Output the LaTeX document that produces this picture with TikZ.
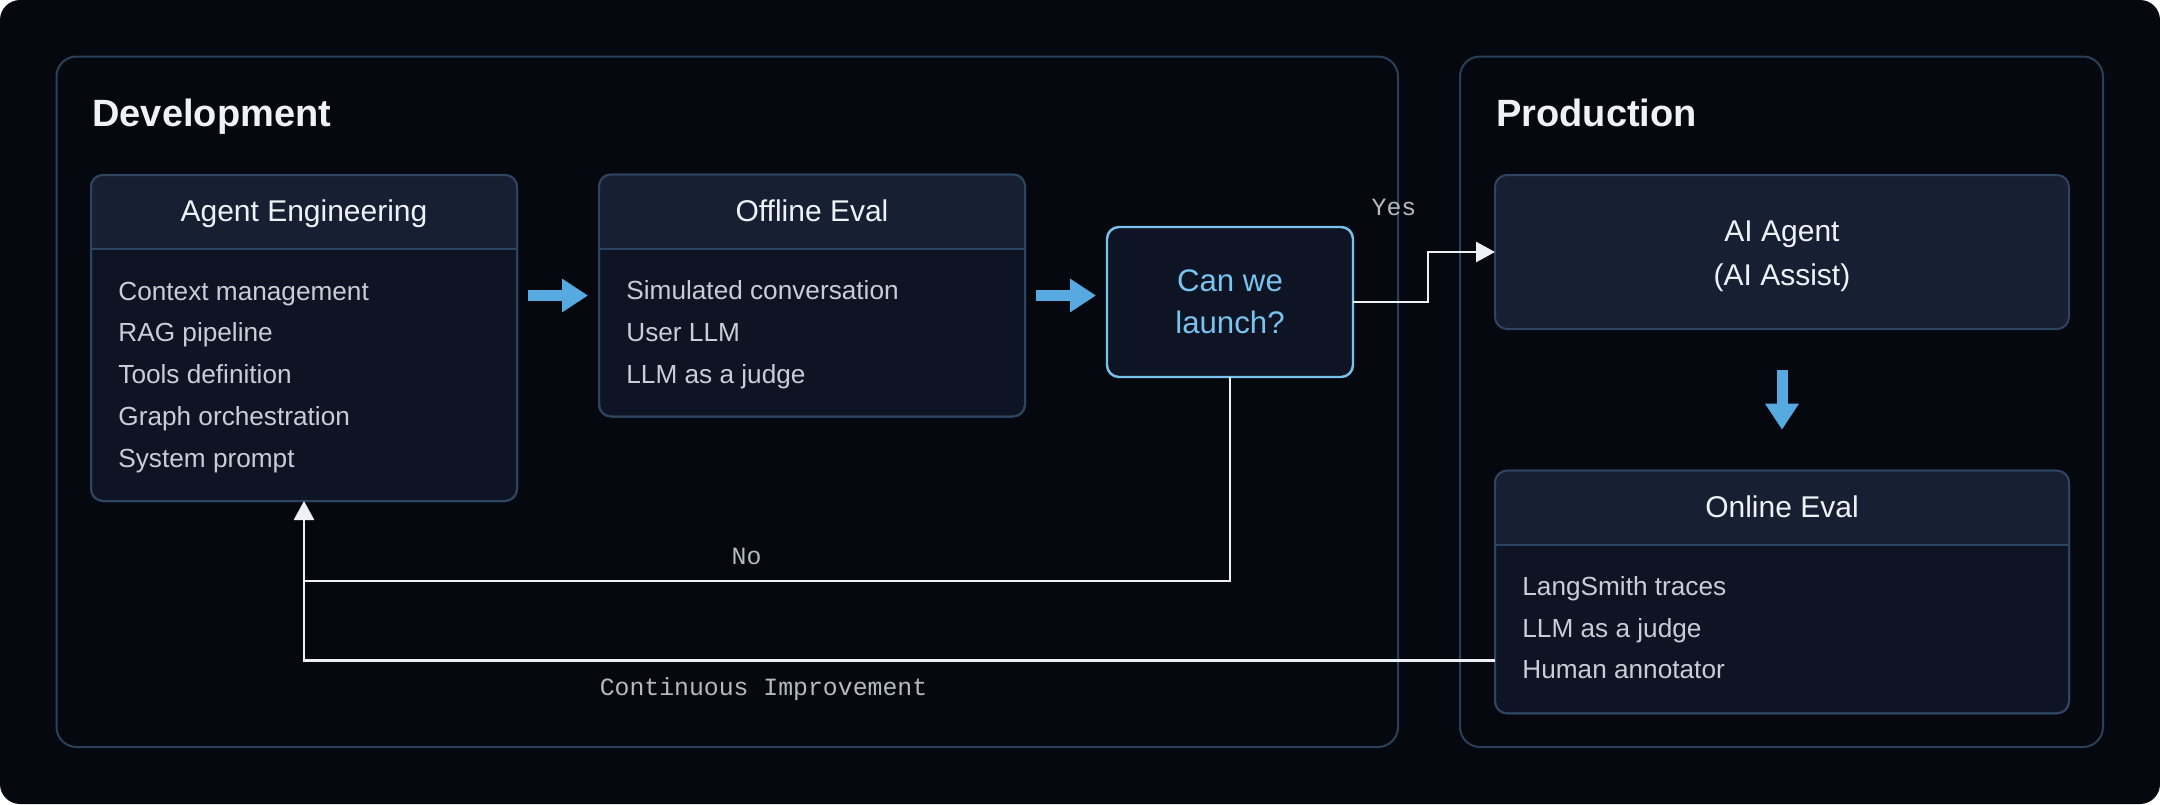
\documentclass[tikz,border=0pt]{standalone}
\usepackage{fontspec}
\setmainfont{Liberation Sans}
\setmonofont{Liberation Mono}
\usetikzlibrary{arrows.meta,calc,positioning}

\definecolor{bgdark}{HTML}{05090F}
\definecolor{panelline}{HTML}{2A3F58}
\definecolor{cardline}{HTML}{2D4561}
\definecolor{cardbody}{HTML}{0E1423}
\definecolor{cardhead}{HTML}{171F33}
\definecolor{arrowblue}{HTML}{56AADF}
\definecolor{askblue}{HTML}{79C3EF}
\definecolor{flowwhite}{HTML}{EEF1F4}
\definecolor{tagtext}{HTML}{B3BAC2}
\definecolor{itemtext}{HTML}{C9CED6}
\definecolor{headtext}{HTML}{EEF2F6}

\tikzset{
  panel/.style={draw=panelline, line width=1pt, rounded corners=10pt},
  paneltitle/.style={anchor=base west, inner sep=0pt, text=headtext, font=\fontsize{19}{23}\selectfont\bfseries},
  card/.style={draw=cardline, fill=cardbody, line width=1pt, rounded corners=6pt, outer sep=0pt},
  cardtitle/.style={anchor=base, text=headtext, font=\fontsize{15}{20}\selectfont},
  item/.style={anchor=base west, text=itemtext, inner sep=0pt, font=\fontsize{13.1}{18}\selectfont},
  decision/.style={draw=askblue, fill=cardbody, line width=1.2pt, rounded corners=6pt, outer sep=0pt,
    text=askblue, align=center, font=\fontsize{15.6}{20.85}\selectfont},
  bigarrow/.style={draw=arrowblue, line width=5.5pt, -{Triangle[length=13pt,width=16pt]}},
  flow/.style={draw=flowwhite, line width=1.4pt, -{Triangle[length=9.5pt,width=10pt]}},
  flowline/.style={draw=flowwhite, line width=1.4pt},
  tag/.style={anchor=base, text=tagtext, font=\ttfamily\fontsize{12.4}{15}\selectfont},
}

\begin{document}
\begin{tikzpicture}[x=0.5pt, y=-0.5pt]
  \useasboundingbox (0,0) rectangle (2160,804);
  \fill[white] (0,0) rectangle (2160,804);
  \fill[bgdark, rounded corners=10pt] (0,0) rectangle (2160,804);

  % stages
  \draw[panel] (56.5,56.5) rectangle (1398,747);
  \draw[panel] (1460,56.5) rectangle (2103,747);
  \node[paneltitle] (devt) at (92,126) {Development};
  \node[paneltitle] (prodt) at (1496,126) {Production};

  % cards
  \node[card, minimum width=213pt, minimum height=163pt] (ae) at (304,338) {};
  \node[card, minimum width=213pt, minimum height=121pt] (oe) at (812,295.5) {};
  \node[card, minimum width=287pt, minimum height=121.3pt] (on) at (1782,592) {};
  \foreach \c in {ae,oe,on} {
    \fill[cardhead] ($(\c.north west)+(0,74)$) [rounded corners=6pt] -- (\c.north west)
      -- (\c.north east) [sharp corners] -- ($(\c.north east)+(0,74)$) -- cycle;
    \draw[cardline, line width=1pt] ($(\c.north west)+(0,74)$) -- ($(\c.north east)+(0,74)$);
    \draw[cardline, line width=1pt, rounded corners=6pt] (\c.north west) rectangle (\c.south east);
  }
  \node[cardtitle] (aeh) at ($(ae.north)+(0,46.7)$) {Agent Engineering};
  \node[cardtitle] (oeh) at ($(oe.north)+(0,46.7)$) {Offline Eval};
  \node[cardtitle] (onh) at ($(on.north)+(0,46.7)$) {Online Eval};

  \foreach \t [count=\i] in {Context management,RAG pipeline,Tools definition,Graph orchestration,System prompt}
    \node[item] (ae-\i) at ($(ae.north west)+(27,{125+41.8*(\i-1)})$) {\t};
  \foreach \t [count=\i] in {Simulated conversation,User LLM,LLM as a judge}
    \node[item] (oe-\i) at ($(oe.north west)+(27,{125+41.8*(\i-1)})$) {\t};
  \foreach \t [count=\i] in {LangSmith traces,LLM as a judge,Human annotator}
    \node[item] (on-\i) at ($(on.north west)+(27,{124.5+41.8*(\i-1)})$) {\t};

  \node[decision, minimum width=123pt, minimum height=75pt, text height=31.3pt, text depth=0pt]
    (can) at (1230,302) {Can we\\launch?};
  \node[card, fill=cardhead, minimum width=287pt, minimum height=77pt, text=headtext,
    align=center, font=\fontsize{15}{22}\selectfont, text height=33.7pt, text depth=0pt]
    (ai) at (1782,252) {AI Agent\\(AI Assist)};

  % main flow
  \draw[bigarrow, shorten <=5.5pt, shorten >=5.5pt] (ae.east |- oe.west) -- (oe.west);
  \draw[bigarrow, shorten <=5.5pt, shorten >=5.5pt] (oe.east) -- (can.west |- oe.east);
  \draw[bigarrow, shorten <=20.5pt, shorten >=20.5pt] (ai.south) -- (on.north);

  % decisions and feedback
  \coordinate (knee) at ($(ae.south)+(0,80)$);
  \draw[flow] (can.east) -- ++(75,0) |- (ai.west);
  \draw[flow] (can.south) |- (knee) -- (ae.south);
  \draw[flowline] ($(on.south west)+(0,-53)$) -| (knee);
  \node[tag] (yes) at (1394,215) {Yes};
  \node[tag] (no) at (746.5,564) {No};
  \node[tag] (ci) at (763.5,695) {Continuous Improvement};
\end{tikzpicture}
\end{document}
